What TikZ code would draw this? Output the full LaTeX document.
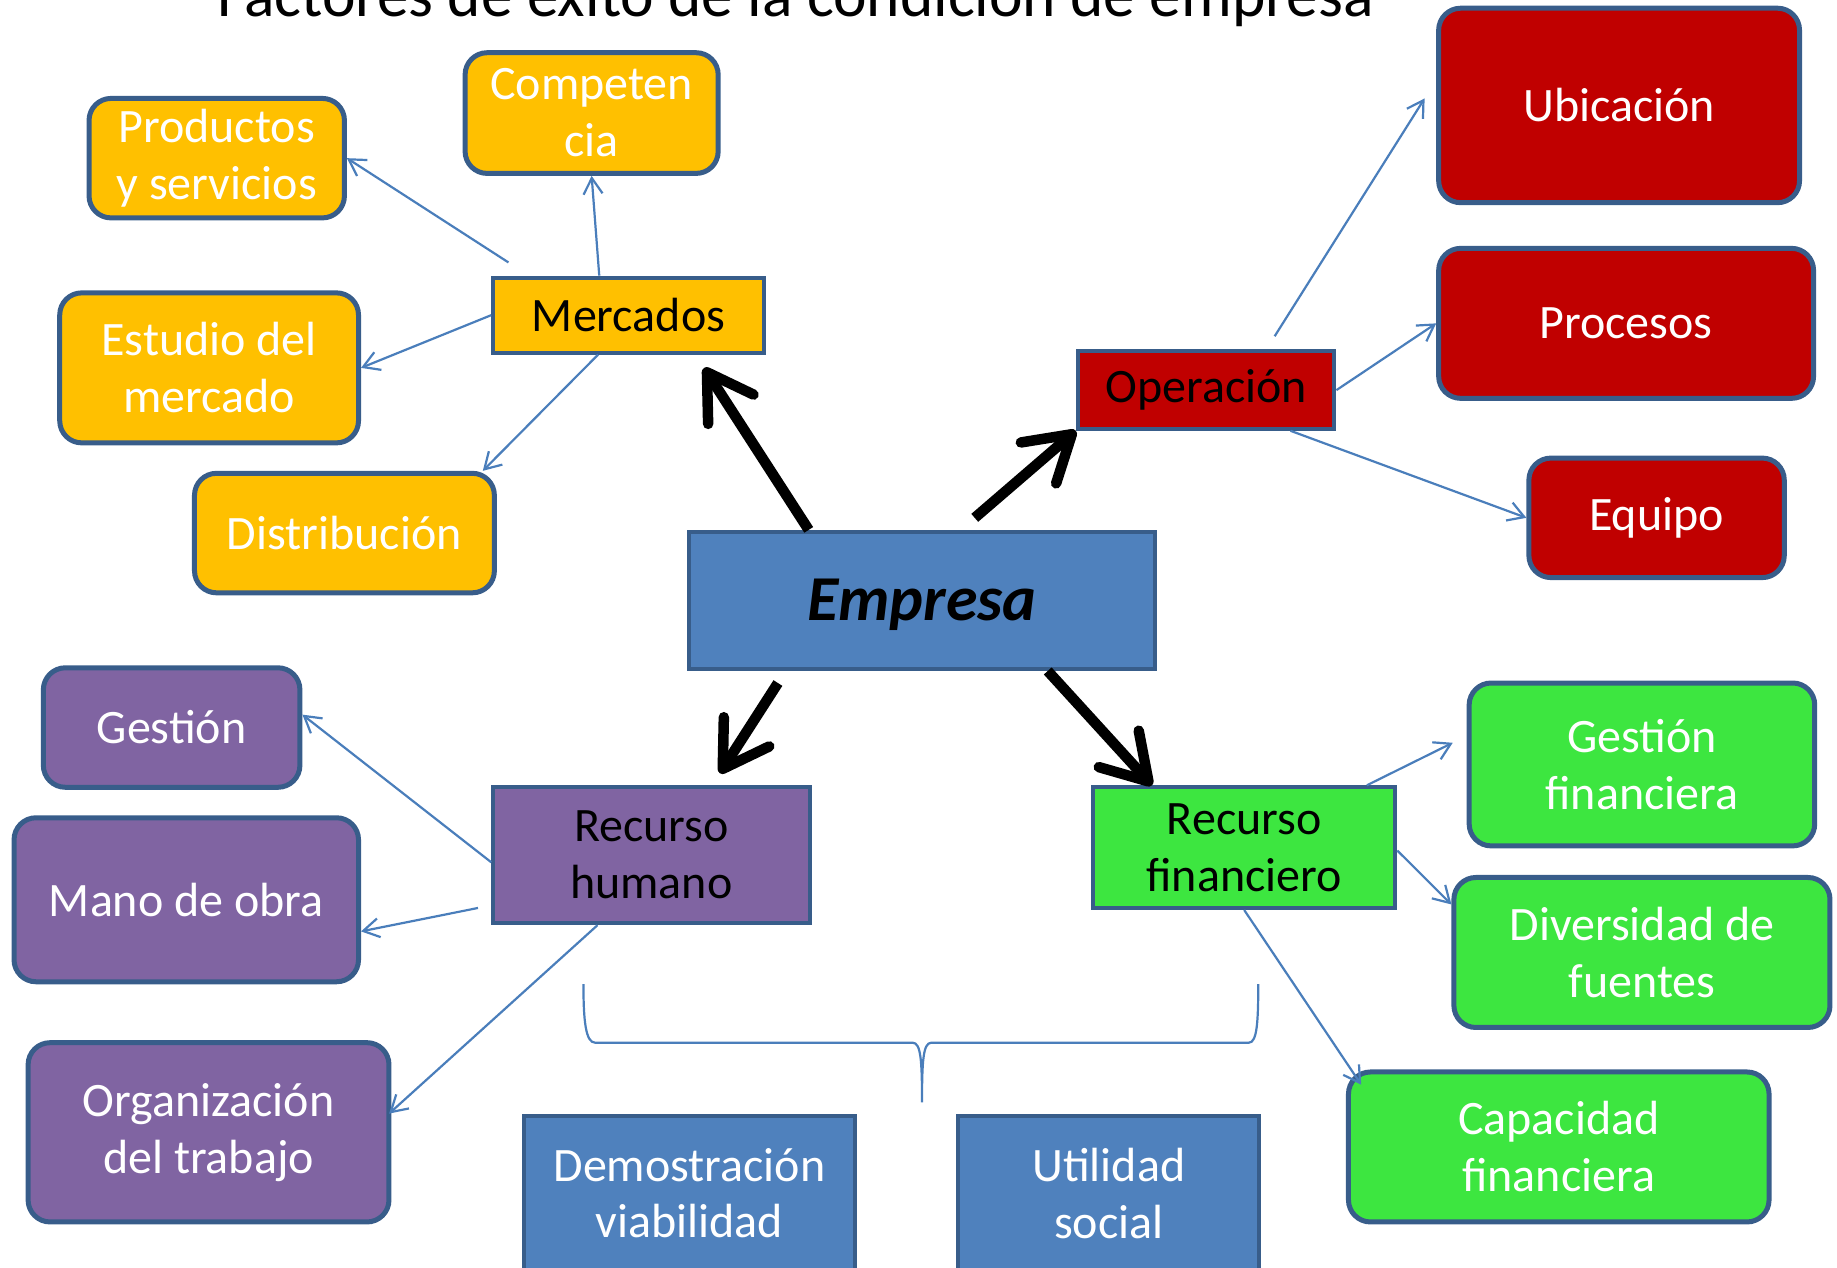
\documentclass[tikz,border=0pt]{standalone}
\usepackage{fontspec}
\setmainfont{Carlito}
\usetikzlibrary{arrows.meta,calc}
\definecolor{bord}{RGB}{56,93,138}
\definecolor{conn}{RGB}{74,126,187}
\definecolor{yel}{RGB}{255,192,0}
\definecolor{rojo}{RGB}{192,0,0}
\definecolor{morado}{RGB}{128,100,162}
\definecolor{verde}{RGB}{61,230,64}
\definecolor{azul}{RGB}{79,129,189}
\begin{document}
\begin{tikzpicture}[x=1.1716pt,y=-1.1716pt,
  txt/.style={font=\fontsize{48}{57}\selectfont, align=center, inner sep=0pt},
  rbox/.style={txt, draw=bord, line width=5pt, rounded corners=22pt, text=white},
  sbox/.style={txt, draw=bord, line width=4pt, text=black},
  sz/.style 2 args={minimum width=#1, minimum height=#2},
  link/.style={draw=conn, line width=2.2pt, -{Straight Barb[length=16pt,width=19pt]}},
  bigarrow/.style={line width=10.5pt, -{Straight Barb[length=44pt,width=54pt,round]}}]
\useasboundingbox (0,0) rectangle (1568,1082);

\node[font=\fontsize{63.5}{70}\selectfont, anchor=base, inner sep=0pt] (title) at (679,14.5) {Factores de éxito de la condición de empresa};

% Mercados group
\node[rbox, fill=yel, sz={253.1pt}{120.7pt}] (comp) at (505,96.5) {Competen\\cia};
\node[rbox, fill=yel, sz={255.4pt}{119.5pt}] (prod) at (185,135) {Productos\\y servicios};
\node[sbox, fill=yel, sz={270.6pt}{75pt}] (merc) at (536.5,269) {Mercados};
\node[rbox, fill=yel, sz={298.8pt}{150pt}] (est) at (178.5,314) {Estudio del\\mercado};
\node[rbox, fill=yel, sz={299.9pt}{119.5pt}] (dist) at (294,455) {Distribución};

% Empresa
\node[sbox, fill=azul, sz={466.3pt}{137.1pt}, text height=41pt, text depth=0pt, font=\fontsize{64}{70}\selectfont\bfseries\itshape] (emp) at (787,512.5) {Empresa};

% Operacion group
\node[sbox, fill=rojo, sz={256.6pt}{77.3pt}] (oper) at (1029.5,333) {Operación};
\node[rbox, fill=rojo, sz={360.9pt}{194.5pt}] (ubic) at (1382,90) {Ubicación};
\node[rbox, fill=rojo, sz={374.9pt}{150pt}] (proc) at (1388,276) {Procesos};
\node[rbox, fill=rojo, sz={255.4pt}{119.5pt}] (equipo) at (1414,442) {Equipo};

% Recurso humano group
\node[rbox, fill=morado, sz={256.6pt}{119.5pt}] (gest) at (146.5,621) {Gestión};
\node[rbox, fill=morado, sz={344.5pt}{164pt}] (mano) at (159,768) {Mano de obra};
\node[rbox, fill=morado, sz={360.9pt}{179.3pt}] (org) at (178,966.5) {Organización\\del trabajo};
\node[sbox, fill=morado, sz={316.3pt}{135.9pt}] (rh) at (556,730) {Recurso\\humano};

% Recurso financiero group
\node[sbox, fill=verde, sz={302.3pt}{120.7pt}] (rf) at (1062,723.5) {Recurso\\financiero};
\node[rbox, fill=verde, sz={345.6pt}{162.9pt}] (gfin) at (1401.5,652.5) {Gestión\\financiera};
\node[rbox, fill=verde, sz={376.1pt}{150pt}] (div) at (1401.5,813) {Diversidad de\\fuentes};
\node[rbox, fill=verde, sz={420.6pt}{150pt}] (cap) at (1330.5,979) {Capacidad\\financiera};

% bottom boxes
\node[sbox, fill=azul, text=white, text depth=12pt, sz={331.6pt}{165pt}] (demo) at (588.5,1023.4) {Demostración\\viabilidad};
\node[sbox, fill=azul, text=white, text depth=12pt, sz={301.1pt}{165pt}] (util) at (946.5,1023.4) {Utilidad\\social};

% free ends
\coordinate (cMP) at (434,224);
\coordinate (cMerc) at (601,314);
\coordinate (cEO) at (832,442);
\coordinate (cRH1) at (664,583);
\coordinate (cRH2) at (614.5,660);
\coordinate (cU1) at (1088,287);
\coordinate (cU2) at (1216,84);
\coordinate (cMO) at (408,775);
\coordinate (cGF) at (1240,634);

% thin connectors
\draw[link] (cMP) -- (prod.east);
\draw[link] ($(merc.north)+(-25,0)$) -- (comp.south);
\draw[link] (merc.west) -- (est.east);
\draw[link] ($(merc.south)+(-26,0)$) -- ($(dist.north east)+(-12,0)$);
\draw[link] (cU1) -- (cU2);
\draw[link] (oper.east) -- (proc.west);
\draw[link] ($(oper.south)+(72,0)$) -- (equipo.west);
\draw[link] ($(rh.west)+(0,6)$) -- ($(gest.east)+(0,-11)$);
\draw[link] (cMO) -- ($(mano.east)+(0,27)$);
\draw[link] ($(rh.south)+(-46,0)$) -- ($(org.east)+(-2,-16)$);
\draw[link] ($(rf.north east)+(-26,0)$) -- (cGF);
\draw[link] ($(rf.east)+(0,2.5)$) -- ($(div.west)+(0,-41)$);
\draw[link] (rf.south) -- ($(cap.north west)+(13,13)$);

% thick arrows
\draw[bigarrow] ($(emp.north west)+(104,0)$) -- (cMerc);
\draw[bigarrow] (cEO) -- (oper.south west);
\draw[bigarrow] (cRH1) -- (cRH2);
\draw[bigarrow] ($(emp.south west)+(308,0)$) -- ($(rf.north west)+(52,0)$);

% brace
\draw[conn, line width=2.2pt] (498,840) .. controls (498,872) and (500,890) .. (508,890)
  -- (779,890) .. controls (786,890) and (787,905) .. (787,941)
  .. controls (787,905) and (788,890) .. (795,890)
  -- (1066,890) .. controls (1073,890) and (1074,872) .. (1074,840);
\end{tikzpicture}
\end{document}
